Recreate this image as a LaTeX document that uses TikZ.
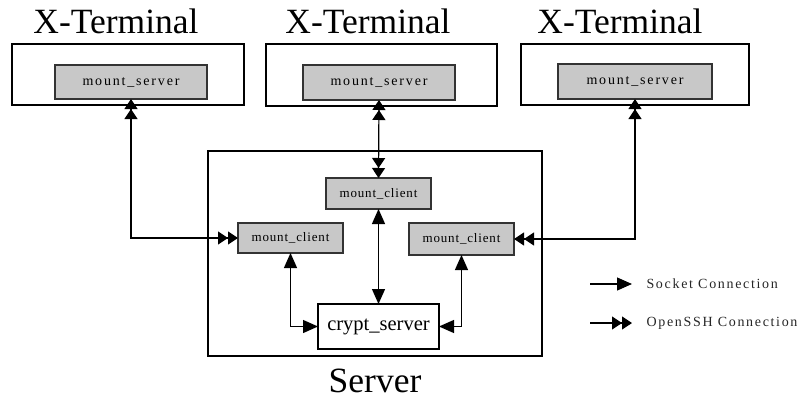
\documentclass[tikz,border=0pt]{standalone}
\usepackage{fontspec}
\setmainfont{Liberation Serif}
\newfontfamily\spacedfont[LetterSpace=13]{Liberation Serif}
\newfontfamily\clientfont[LetterSpace=6.5]{Liberation Serif}
\newfontfamily\keyfont[LetterSpace=12]{Liberation Serif}
\usetikzlibrary{arrows.meta}

\tikzset{
  frame/.style={draw=black, line width=1.3pt, fill=white, inner sep=0pt, outer sep=0pt},
  module/.style={draw=black!80, line width=1.5pt, fill={rgb,255:red,200;green,200;blue,200},
    inner sep=0pt, outer sep=0pt},
  title/.style={font=\fontsize{35.5}{40}\selectfont, anchor=base, inner sep=0pt},
  servertext/.style={font=\spacedfont\fontsize{14}{16}\selectfont},
  clienttext/.style={font=\clientfont\fontsize{13}{15}\selectfont},
  legendtext/.style={font=\keyfont\fontsize{14}{16}\selectfont, anchor=west, text=black!85},
  link/.style={draw=black, line width=1.2pt},
  sockarr/.style={link, arrows={Triangle[length=15pt,width=13pt]-Triangle[length=15pt,width=13pt]}},
  ssharr/.style={link, arrows={Triangle[length=10pt,width=13pt] Triangle[length=10pt,width=13pt]-Triangle[length=10pt,width=13pt] Triangle[length=10pt,width=13pt]}},
  sockkey/.style={link, arrows={-Triangle[length=15pt,width=13pt]}},
  sshkey/.style={link, arrows={-Triangle[length=10pt,width=13pt] Triangle[length=10pt,width=13pt]}},
}

\begin{document}
\begin{tikzpicture}[x=1pt, y=-1pt]
\useasboundingbox (0,0) rectangle (802,399);

% terminal titles
\node[title] (t1) at (116,33) {X-Terminal};
\node[title] (t2) at (368,33) {X-Terminal};
\node[title] (t3) at (620,33) {X-Terminal};

% terminal frames
\node[frame, minimum width=232pt, minimum height=61pt] (T1) at (128,74.5) {};
\node[frame, minimum width=231pt, minimum height=62pt] (T2) at (381.5,75) {};
\node[frame, minimum width=228pt, minimum height=61pt] (T3) at (635,74.5) {};

% mount servers
\node[module, servertext, minimum width=152pt, minimum height=34pt] (ms1) at (131,82) {mount\_server};
\node[module, servertext, minimum width=152pt, minimum height=35pt] (ms2) at (379,82.5) {mount\_server};
\node[module, servertext, minimum width=154pt, minimum height=35pt] (ms3) at (635,81.5) {mount\_server};

% server frame
\node[frame, minimum width=334pt, minimum height=205pt] (S) at (375,253.5) {};
\node[title] (st) at (375,392) {Server};

% server modules
\node[module, clienttext, minimum width=105pt, minimum height=31pt] (mcT) at (378.5,193.5) {mount\_client};
\node[module, clienttext, minimum width=105pt, minimum height=30pt] (mcL) at (290.5,238) {mount\_client};
\node[module, clienttext, minimum width=105pt, minimum height=32pt] (mcR) at (461.5,239) {mount\_client};
\node[frame, line width=1.3pt, minimum width=121pt, minimum height=45pt,
      font=\fontsize{20.5}{24}\selectfont] (cs) at (378.5,326.5) {crypt\_server};

% OpenSSH connections between terminals and server
\draw[ssharr] (ms1.south) |- (mcL.west);
\draw[ssharr] (ms2.south) -- (mcT.north);
\draw[ssharr] (ms3.south) |- (mcR.east);

% socket connections inside the server
\draw[sockarr] (mcT.south) -- (cs.north);
\draw[sockarr] (mcL.south) |- (cs.west);
\draw[sockarr] (mcR.south) |- (cs.east);

% legend
\coordinate (k1a) at (590,284);
\coordinate (k1b) at (632,284);
\coordinate (k2a) at (590,323);
\coordinate (k2b) at (632,323);
\draw[sockkey] (k1a) -- (k1b);
\draw[sshkey] (k2a) -- (k2b);
\node[legendtext] (l1) at (643,284) {Socket Connection};
\node[legendtext] (l2) at (643,323) {OpenSSH Connection};
\end{tikzpicture}
\end{document}
